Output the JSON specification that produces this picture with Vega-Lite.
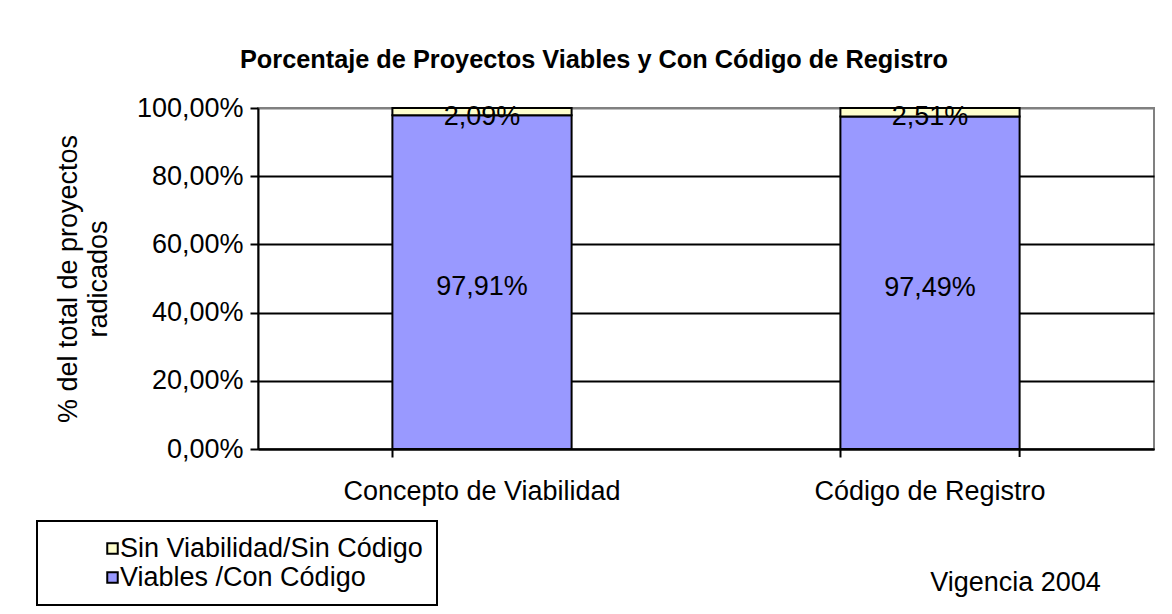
{
  "$schema": "https://vega.github.io/schema/vega-lite/v6.json",
  "autosize": {"type": "none"},
  "width": 896,
  "height": 341,
  "padding": {"left": 258, "top": 108, "right": 18, "bottom": 165},
  "background": "white",
  "title": {
    "text": "Porcentaje de Proyectos Viables y Con Código de Registro",
    "font": "Liberation Sans",
    "fontSize": 25.3,
    "fontWeight": "bold",
    "color": "black",
    "anchor": "middle",
    "dx": -112,
    "offset": 21
  },
  "data": {
    "values": [
      {"categoria": "Concepto de Viabilidad", "serie": "Viables /Con Código", "orden": 1, "valor": 0.9791},
      {"categoria": "Concepto de Viabilidad", "serie": "Sin Viabilidad/Sin Código", "orden": 2, "valor": 0.0209},
      {"categoria": "Código de Registro", "serie": "Viables /Con Código", "orden": 1, "valor": 0.9749},
      {"categoria": "Código de Registro", "serie": "Sin Viabilidad/Sin Código", "orden": 2, "valor": 0.0251}
    ]
  },
  "encoding": {
    "x": {
      "field": "categoria",
      "type": "nominal",
      "sort": ["Concepto de Viabilidad", "Código de Registro"],
      "scale": {"paddingInner": 0.6, "paddingOuter": 0.3},
      "axis": {
        "title": "Vigencia 2004",
        "titleFont": "Liberation Sans",
        "titleFontSize": 27,
        "titleFontWeight": "normal",
        "titleColor": "black",
        "titleX": 757,
        "titleY": 141,
        "titleAlign": "center",
        "titleBaseline": "alphabetic",
        "titleAnchor": null,
        "labelAngle": 0,
        "labelFont": "Liberation Sans",
        "labelFontSize": 27,
        "labelColor": "black",
        "labelPadding": 21,
        "labelLimit": 600,
        "bandPosition": 0,
        "tickSize": 8,
        "tickWidth": 2,
        "tickColor": "black",
        "domainColor": "black",
        "domainWidth": 2,
        "grid": false
      }
    }
  },
  "layer": [
    {
      "mark": {"type": "bar", "stroke": "black", "strokeWidth": 2},
      "encoding": {
        "y": {
          "field": "valor",
          "type": "quantitative",
          "stack": "zero",
          "scale": {"domain": [0, 1], "nice": false},
          "axis": {
            "values": [0, 0.2, 0.4, 0.6, 0.8, 1],
            "format": ".2%",
            "title": ["% del total de proyectos", "radicados"],
            "titleFont": "Liberation Sans",
            "titleFontSize": 27,
            "titleFontWeight": "normal",
            "titleColor": "black",
            "titleLineHeight": 30,
            "titlePadding": 24,
            "labelFont": "Liberation Sans",
            "labelFontSize": 27,
            "labelColor": "black",
            "labelPadding": 7,
            "tickSize": 8,
            "tickWidth": 2,
            "tickColor": "black",
            "domainColor": "black",
            "domainWidth": 2,
            "grid": true,
            "gridColor": {"condition": {"test": "datum.value == 1", "value": "#808080"}, "value": "black"},
            "gridWidth": 2
          }
        },
        "color": {
          "field": "serie",
          "type": "nominal",
          "scale": {
            "domain": ["Sin Viabilidad/Sin Código", "Viables /Con Código"],
            "range": ["#FFFFCC", "#9999FF"]
          },
          "legend": {
            "title": null,
            "orient": "none",
            "legendX": -221,
            "legendY": 413,
            "direction": "vertical",
            "strokeColor": "black",
            "padding": 14,
            "symbolType": "square",
            "symbolSize": 110,
            "symbolStrokeColor": "black",
            "symbolStrokeWidth": 2,
            "symbolOffset": 48,
            "labelOffset": -6,
            "labelFont": "Liberation Sans",
            "labelFontSize": 27,
            "labelColor": "black",
            "labelLimit": 500,
            "rowPadding": 1,
            "encode": {"legend": {"update": {"strokeWidth": {"value": 2}}}}
          }
        },
        "order": {"field": "orden", "type": "quantitative"}
      }
    },
    {
      "transform": [
        {"stack": "valor", "groupby": ["categoria"], "sort": [{"field": "orden"}], "as": ["v0", "v1"]},
        {"calculate": "(datum.v0 + datum.v1) / 2", "as": "medio"}
      ],
      "mark": {"type": "text", "font": "Liberation Sans", "fontSize": 27, "color": "black", "baseline": "middle", "dy": 5},
      "encoding": {
        "y": {"field": "medio", "type": "quantitative"},
        "text": {"field": "valor", "type": "quantitative", "format": ".2%"}
      }
    },
    {
      "data": {"values": [{"c": "Código de Registro"}]},
      "mark": {"type": "rule", "color": "black", "strokeWidth": 2, "y2Offset": 8},
      "encoding": {
        "x": {"field": "c", "type": "nominal", "bandPosition": 1},
        "y": {"datum": 0, "type": "quantitative"},
        "y2": {"datum": 0}
      }
    }
  ],
  "config": {
    "locale": {"number": {"decimal": ",", "thousands": ".", "grouping": [3], "currency": ["$", ""]}},
    "view": {"stroke": "#808080", "strokeWidth": 2},
    "font": "Liberation Sans"
  }
}
